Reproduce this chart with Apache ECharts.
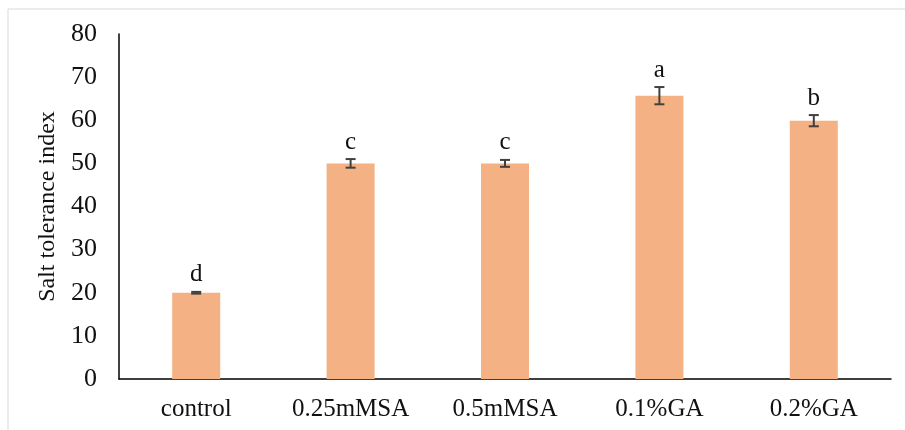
<!DOCTYPE html>
<html>
<head>
<meta charset="utf-8">
<script src="https://cdn.jsdelivr.net/npm/echarts@6/dist/echarts.min.js"></script>
<style>
html,body{margin:0;padding:0;background:#fff;}
#chart{width:905px;height:430px;}
</style>
</head>
<body>
<div id="chart"></div>
<script>
const categories = ['control', '0.25mMSA', '0.5mMSA', '0.1%GA', '0.2%GA'];
const values = [20, 50, 50, 65.7, 59.9];
const errors = [0.2, 1.0, 0.8, 2.0, 1.3];
const letters = ['d', 'c', 'c', 'a', 'b'];
const yTicks = [0, 10, 20, 30, 40, 50, 60, 70, 80];

const FONT = '"Liberation Serif", "DejaVu Serif", serif';
const chart = echarts.init(document.getElementById('chart'));

const errData = categories.map((c, i) => [i, values[i], errors[i]]);

chart.setOption({
  animation: false,
  backgroundColor: '#fff',
  grid: { left: 119, right: 14, top: 34, bottom: 51 },
  graphic: [
    { type: 'line', shape: { x1: 8, y1: 9, x2: 905, y2: 9 }, style: { stroke: '#d9d9d9', lineWidth: 1 } },
    { type: 'line', shape: { x1: 8, y1: 9, x2: 8, y2: 430 }, style: { stroke: '#d9d9d9', lineWidth: 1 } }
  ],
  xAxis: {
    type: 'category',
    data: categories,
    axisLine: { lineStyle: { color: '#000', width: 1.5 } },
    axisTick: { show: false },
    axisLabel: { fontFamily: FONT, fontSize: 25, color: '#111', margin: 18 }
  },
  yAxis: {
    type: 'value',
    min: yTicks[0],
    max: yTicks[yTicks.length - 1],
    interval: 10,
    name: 'Salt tolerance index',
    nameLocation: 'middle',
    nameGap: 48,
    nameTextStyle: { fontFamily: FONT, fontSize: 24, color: '#111' },
    axisLine: { show: true, lineStyle: { color: '#000', width: 1.5 } },
    axisTick: { show: false },
    splitLine: { show: false },
    axisLabel: { fontFamily: FONT, fontSize: 26, color: '#111', margin: 22 }
  },
  series: [
    {
      type: 'bar',
      data: values,
      barWidth: 48,
      itemStyle: { color: '#F4B183' }
    },
    {
      type: 'custom',
      data: errData,
      z: 10,
      renderItem: function (params, api) {
        const x = api.coord([api.value(0), 0])[0];
        const v = api.value(1), e = api.value(2);
        const top = api.coord([api.value(0), v + e])[1];
        const bot = api.coord([api.value(0), v - e])[1];
        const cap = 5;
        const st = { stroke: '#404040', lineWidth: 2 };
        return {
          type: 'group',
          children: [
            { type: 'line', shape: { x1: x, y1: top, x2: x, y2: bot }, style: st },
            { type: 'line', shape: { x1: x - cap, y1: top, x2: x + cap, y2: top }, style: st },
            { type: 'line', shape: { x1: x - cap, y1: bot, x2: x + cap, y2: bot }, style: st },
            { type: 'text', style: { text: letters[params.dataIndex], x: x, y: top - 17, align: 'center', verticalAlign: 'middle', font: '25px ' + FONT, fill: '#111' } }
          ]
        };
      }
    }
  ]
});
</script>
</body>
</html>
